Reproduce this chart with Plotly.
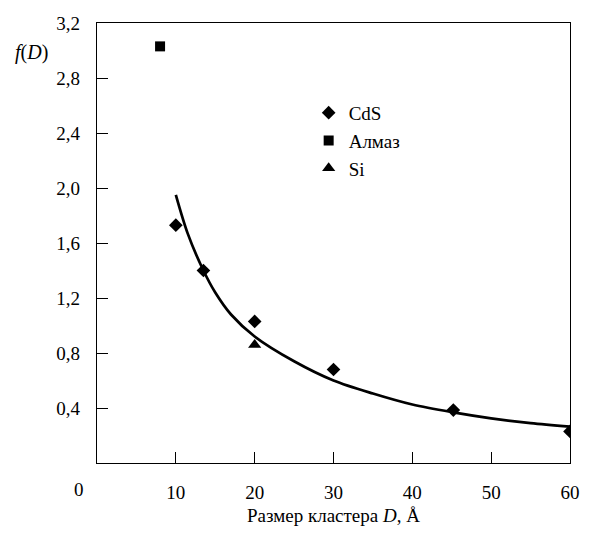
import plotly.graph_objects as go

# Data
cds_x = [10, 13.5, 20, 30, 45.2, 60]
cds_y = [1.73, 1.40, 1.03, 0.68, 0.385, 0.23]
diamond_x = [8.0]
diamond_y = [3.03]
si_x = [20]
si_y = [0.86]
fit_x = [10, 11.5, 13.5, 15, 17, 20, 25, 30, 35, 40, 45, 50, 55, 60]
fit_y = [1.95, 1.67, 1.40, 1.24, 1.08, 0.92, 0.74, 0.60, 0.505, 0.425, 0.37, 0.325, 0.29, 0.265]

x_ticks = [10, 20, 30, 40, 50, 60]
y_ticks = [0.4, 0.8, 1.2, 1.6, 2.0, 2.4, 2.8, 3.2]
y_ticktext = ["0,4", "0,8", "1,2", "1,6", "2,0", "2,4", "2,8", "3,2"]

FONT = "Liberation Serif, Times New Roman, serif"

fig = go.Figure()
fig.add_trace(go.Scatter(x=fit_x, y=fit_y, mode="lines",
                         line=dict(color="black", width=2.7, shape="spline", smoothing=0.9),
                         showlegend=False, hoverinfo="skip"))
fig.add_trace(go.Scatter(x=cds_x, y=cds_y, mode="markers", name="CdS",
                         marker=dict(symbol="diamond", size=10.5, color="black")))
fig.add_trace(go.Scatter(x=diamond_x, y=diamond_y, mode="markers", name="Алмаз",
                         marker=dict(symbol="square", size=10, color="black")))
fig.add_trace(go.Scatter(x=si_x, y=si_y, mode="markers", name="Si",
                         marker=dict(symbol="triangle-up", size=11.5, color="black")))

axis_common = dict(showgrid=False, zeroline=False, showline=True, linecolor="black", linewidth=1.3,
                   mirror=True, ticks="inside", ticklen=11, tickwidth=1.3, tickcolor="black",
                   tickfont=dict(family=FONT, size=19, color="black"))

fig.update_xaxes(range=[0, 60], tickvals=x_ticks, ticktext=[str(v) for v in x_ticks],
                 ticklabelstandoff=12,
                 title=dict(text="Размер кластера <i>D</i>, Å", font=dict(family=FONT, size=19, color="black"),
                            standoff=6),
                 **axis_common)
fig.update_yaxes(range=[0, 3.2], tickvals=y_ticks, ticktext=y_ticktext, ticklabelstandoff=12,
                 **axis_common)

fig.add_annotation(text="0", xref="paper", yref="paper", x=0, y=0, xshift=-18, yshift=-26,
                   showarrow=False, font=dict(family=FONT, size=19, color="black"),
                   xanchor="center", yanchor="middle")
fig.add_annotation(text="<i>f</i>(<i>D</i>)", xref="paper", yref="paper", x=0, y=1, xshift=-66, yshift=-29,
                   showarrow=False, font=dict(family=FONT, size=20, color="black"),
                   xanchor="center", yanchor="middle")

fig.update_layout(
    width=592, height=534,
    margin=dict(l=97, r=12, t=23, b=63),
    plot_bgcolor="white", paper_bgcolor="white",
    font=dict(family=FONT, size=19, color="black"),
    legend=dict(x=0.4475, y=0.839, xanchor="left", yanchor="top", bgcolor="rgba(0,0,0,0)",
                font=dict(family=FONT, size=19, color="black"), itemwidth=30, tracegroupgap=0),
)

fig.write_html("out.html")
